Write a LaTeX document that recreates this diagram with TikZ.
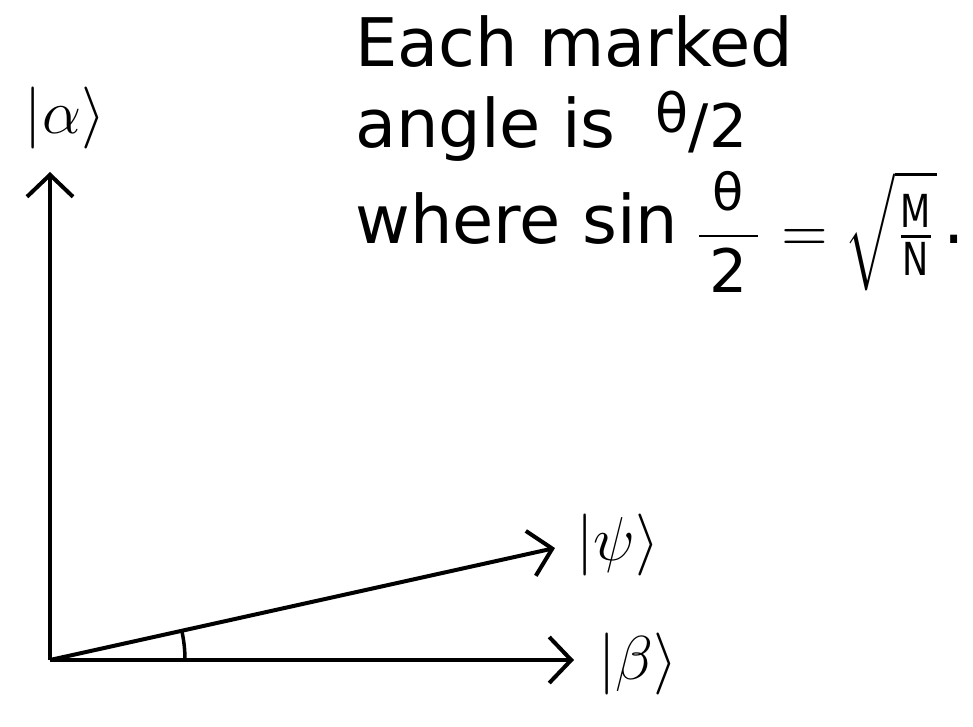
\RequirePackage{fix-cm}
\documentclass[tikz,border=0pt]{standalone}
\usepackage{fontspec}
\setmainfont{DejaVu Sans}
\usetikzlibrary{arrows.meta}
\begin{document}
\begin{tikzpicture}[x=1pt,y=-1pt,
  vec/.style={line width=4pt,-{Straight Barb[length=22pt,width=46pt,line width=4pt]}},
  big/.style={font=\fontsize{67}{80}\selectfont,inner sep=0pt},
  lbl/.style={font=\fontsize{62}{74}\selectfont,inner sep=0pt}]
\useasboundingbox (0,0) rectangle (973,726);
\coordinate (O) at (50,660);
\coordinate (A) at (50,172);
\coordinate (B) at (574,660);
\coordinate (P) at (555,548);
\draw[vec] (O) -- (A);
\draw[vec] (O) -- (B);
\draw[vec] (O) -- (P);
\draw[line width=3.5pt] ([shift={(0:135)}]O) arc[start angle=0,end angle=-12.5,radius=135];
\node[lbl] (la) at (65,118) {$|\alpha\rangle$};
\node[lbl,anchor=west] (lp) at (576,545) {$|\psi\rangle$};
\node[lbl,anchor=west] (lb) at (598,664) {$|\beta\rangle$};
\node[big,anchor=base west] (t1) at (355,66) {Each marked};
\node[big,anchor=base west] (t2) at (355,147) {angle is\hspace{40pt}{\fontsize{54}{60}\selectfont\raisebox{15pt}{θ}}{\fontsize{60}{60}\selectfont/2}};
\node[big,anchor=base west] (t3) at (355,243) {where sin\hspace{14pt}\raisebox{-8pt}{\scalebox{6}{\fontsize{10}{12}\selectfont$\displaystyle\frac{\mkern3mu\mbox{\fontsize{8.5}{10}\selectfont θ}\mkern3mu}{\mkern3mu\mathrm{2}\mkern3mu}=\;$}}\raisebox{-10pt}{\scalebox{5}[6.5]{\fontsize{10}{12}\selectfont$\sqrt{\textstyle\frac{\mathrm{M}}{\mathrm{N}}}$}}\hspace{6pt}.};
\end{tikzpicture}
\end{document}
